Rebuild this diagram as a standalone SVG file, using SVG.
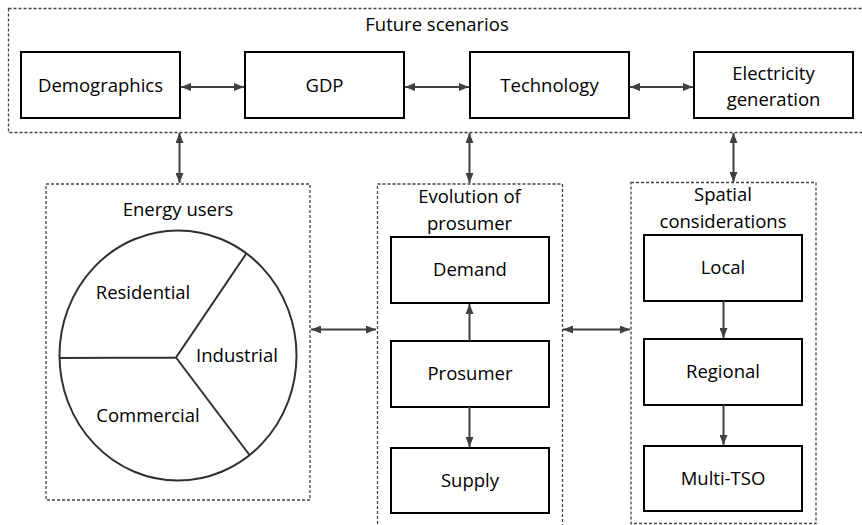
<svg xmlns="http://www.w3.org/2000/svg" width="862" height="525" viewBox="0 0 862 525">
<defs>
<marker id="ah" viewBox="0 0 10 8" refX="10" refY="4" markerWidth="10" markerHeight="8" markerUnits="userSpaceOnUse" orient="auto-start-reverse">
<path d="M0,0 L10,4 L0,8 Z" fill="#404040"/>
</marker>
<style>
text{font-family:"Open Sans","Liberation Sans",sans-serif;font-size:18.5px;fill:#000;text-anchor:middle}
.box{fill:#fff;stroke:#000;stroke-width:2}
.grp{fill:none;stroke:#444;stroke-width:1.3;stroke-dasharray:3 2}
.c{fill:none;stroke:#404040;stroke-width:2}
.pie{fill:none;stroke:#303030;stroke-width:2}
</style>
</defs>
<rect width="862" height="525" fill="#fff"/>

<g id="future-scenarios">
<rect class="grp" x="8.5" y="8.5" width="860" height="124"/>
<text x="437" y="31">Future scenarios</text>
</g>
<g id="demographics"><rect class="box" x="21" y="52" width="159" height="66"/><text x="100.5" y="92">Demographics</text></g>
<g id="gdp"><rect class="box" x="245" y="52" width="159" height="66"/><text x="324.5" y="92">GDP</text></g>
<g id="technology"><rect class="box" x="470" y="52" width="159" height="66"/><text x="549.5" y="92">Technology</text></g>
<g id="electricity-generation"><rect class="box" x="694" y="52" width="159" height="66"/><text x="773.5" y="80">Electricity</text><text x="773.5" y="106">generation</text></g>

<g id="energy-users">
<rect class="grp" x="46" y="184" width="264" height="316"/>
<text x="178" y="216">Energy users</text>
<ellipse class="pie" cx="178" cy="355.5" rx="118.5" ry="125"/>
<path class="pie" d="M60,358 L176,357.5 L246,254 M176,357.5 L249.5,455"/>
<text x="143" y="299">Residential</text>
<text x="237" y="362">Industrial</text>
<text x="148" y="422">Commercial</text>
</g>

<g id="evolution-of-prosumer">
<rect class="grp" x="377.5" y="184" width="185" height="345"/>
<text x="469.5" y="203">Evolution of</text>
<text x="469.5" y="230">prosumer</text>
</g>
<g id="demand"><rect class="box" x="391" y="237" width="158" height="66"/><text x="470" y="276">Demand</text></g>
<g id="prosumer"><rect class="box" x="391" y="341" width="158" height="66"/><text x="470" y="380">Prosumer</text></g>
<g id="supply"><rect class="box" x="391" y="448" width="158" height="65"/><text x="470" y="487">Supply</text></g>

<g id="spatial-considerations">
<rect class="grp" x="631" y="182.5" width="185" height="341"/>
<text x="723" y="201">Spatial</text>
<text x="723" y="228">considerations</text>
</g>
<g id="local"><rect class="box" x="644" y="235" width="158" height="66"/><text x="723" y="274">Local</text></g>
<g id="regional"><rect class="box" x="644" y="339" width="158" height="66"/><text x="723" y="378">Regional</text></g>
<g id="multi-tso"><rect class="box" x="644" y="446" width="158" height="65"/><text x="723" y="485">Multi-TSO</text></g>

<g id="connectors">
<line class="c" x1="181" y1="87" x2="244" y2="87" marker-start="url(#ah)" marker-end="url(#ah)"/>
<line class="c" x1="405" y1="87" x2="469" y2="87" marker-start="url(#ah)" marker-end="url(#ah)"/>
<line class="c" x1="630" y1="87" x2="693" y2="87" marker-start="url(#ah)" marker-end="url(#ah)"/>
<line class="c" x1="179.5" y1="133" x2="179.5" y2="183" marker-start="url(#ah)" marker-end="url(#ah)"/>
<line class="c" x1="469.5" y1="133" x2="469.5" y2="183" marker-start="url(#ah)" marker-end="url(#ah)"/>
<line class="c" x1="733.5" y1="133" x2="733.5" y2="182" marker-start="url(#ah)" marker-end="url(#ah)"/>
<line class="c" x1="311" y1="329.5" x2="376" y2="329.5" marker-start="url(#ah)" marker-end="url(#ah)"/>
<line class="c" x1="563" y1="329.5" x2="630" y2="329.5" marker-start="url(#ah)" marker-end="url(#ah)"/>
<line class="c" x1="469.5" y1="341" x2="469.5" y2="304" marker-end="url(#ah)"/>
<line class="c" x1="469.5" y1="407" x2="469.5" y2="447" marker-end="url(#ah)"/>
<line class="c" x1="723.5" y1="301" x2="723.5" y2="338" marker-end="url(#ah)"/>
<line class="c" x1="723.5" y1="405" x2="723.5" y2="445" marker-end="url(#ah)"/>
</g>
</svg>
